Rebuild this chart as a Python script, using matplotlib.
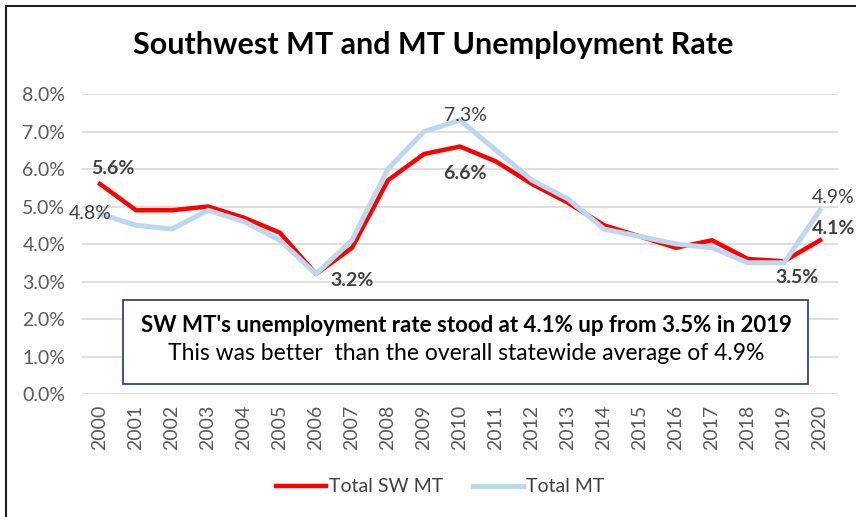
import matplotlib
matplotlib.use("Agg")
import matplotlib.pyplot as plt
from matplotlib.patches import Rectangle

plt.rcParams["font.family"] = ["Lato", "DejaVu Sans"]

years = [str(y) for y in range(2000, 2021)]
sw_mt = [5.6, 4.9, 4.9, 5.0, 4.7, 4.3, 3.2, 3.9, 5.7, 6.4, 6.6,
         6.2, 5.6, 5.1, 4.5, 4.2, 3.9, 4.1, 3.6, 3.54, 4.1]
mt = [4.8, 4.5, 4.4, 4.9, 4.6, 4.1, 3.2, 4.1, 6.0, 7.0, 7.3,
      6.5, 5.7, 5.2, 4.4, 4.2, 4.0, 3.9, 3.5, 3.5, 4.9]
y_ticks = [0, 1, 2, 3, 4, 5, 6, 7, 8]

# labelled points: (series, index, dx px, dy px, bold)
LABELS = [
    ("sw", 0, 13, 16, True),
    ("mt", 0, -10, 1, False),
    ("sw", 6, 36, -7, True),
    ("mt", 10, 5, 5, False),
    ("sw", 10, 5, -27, True),
    ("mt", 20, 13, 13, False),
    ("sw", 20, 14, 12, True),
    ("sw", 19, 13, -16, True),
]

RED = "#FF0000"
BLUE = "#BDD7EE"
GREY = "#595959"
FS = 14

W, H = 856, 517
fig = plt.figure(figsize=(W / 100, H / 100), dpi=100)
ax = fig.add_axes([82 / W, 1 - 394 / H, (838 - 82) / W, (394 - 94) / H])

x = range(len(years))
ax.plot(x, sw_mt, color=RED, lw=3.2, solid_joinstyle="round",
        label="Total SW MT", zorder=3)
ax.plot(x, mt, color=BLUE, lw=3.6, solid_joinstyle="round",
        label="Total MT", zorder=4)

ax.set_xlim(-0.5, len(years) - 0.5)
ax.set_ylim(0, 8)
ax.set_yticks(y_ticks)
ax.set_yticklabels([f"{v:.1f}%" for v in y_ticks])
ax.set_xticks(list(x))
ax.set_xticklabels(years, rotation=90)
ax.tick_params(length=0, colors=GREY, labelsize=FS)
ax.tick_params(axis="x", pad=8)
ax.tick_params(axis="y", pad=12)
ax.grid(axis="y", color="#D9D9D9", lw=1.2)
ax.set_axisbelow(True)
for s in ax.spines.values():
    s.set_visible(False)

series = {"sw": sw_mt, "mt": mt}
for key, i, dx, dy, bold in LABELS:
    v = series[key][i]
    ax.annotate(f"{v:.1f}%", (i, v), xytext=(dx, dy), textcoords="offset pixels",
                ha="center", va="center", fontsize=FS, color="#404040",
                fontweight="bold" if bold else "normal", zorder=6)

# callout box
ax.add_patch(Rectangle(((123 - 82) / (838 - 82), (394 - 384) / 300),
                       (808 - 123) / (838 - 82), 84 / 300,
                       transform=ax.transAxes, facecolor="white",
                       edgecolor="#1F3864", lw=1.2, zorder=5))
ax.text((466 - 82) / (838 - 82), (394 - 325) / 300,
        "SW MT's unemployment rate stood at 4.1% up from 3.5% in 2019",
        transform=ax.transAxes, ha="center", va="center", fontsize=16,
        fontweight="bold", color="black", zorder=6)
ax.text((466 - 82) / (838 - 82), (394 - 354) / 300,
        "This was better  than the overall statewide average of 4.9%",
        transform=ax.transAxes, ha="center", va="center", fontsize=16.5,
        color="black", zorder=6)

fig.text(433 / W, 1 - 45 / H, "Southwest MT and MT Unemployment Rate",
         ha="center", va="center", fontsize=22, fontweight="bold")

fig.legend(loc="center", bbox_to_anchor=(440 / W, 1 - 487 / H), ncol=2,
           frameon=False, fontsize=FS, handlelength=2.6, columnspacing=1.5,
           handletextpad=0.15)
for t in fig.legends[0].get_texts():
    t.set_color("#404040")

# chart border (left and top edges visible)
fig.add_artist(Rectangle((6 / W, -0.1), 1.2, 1 - 6 / H + 0.1, transform=fig.transFigure,
                         fill=False, edgecolor="#202020", lw=1.5))

fig.savefig("out.png", dpi=100)
